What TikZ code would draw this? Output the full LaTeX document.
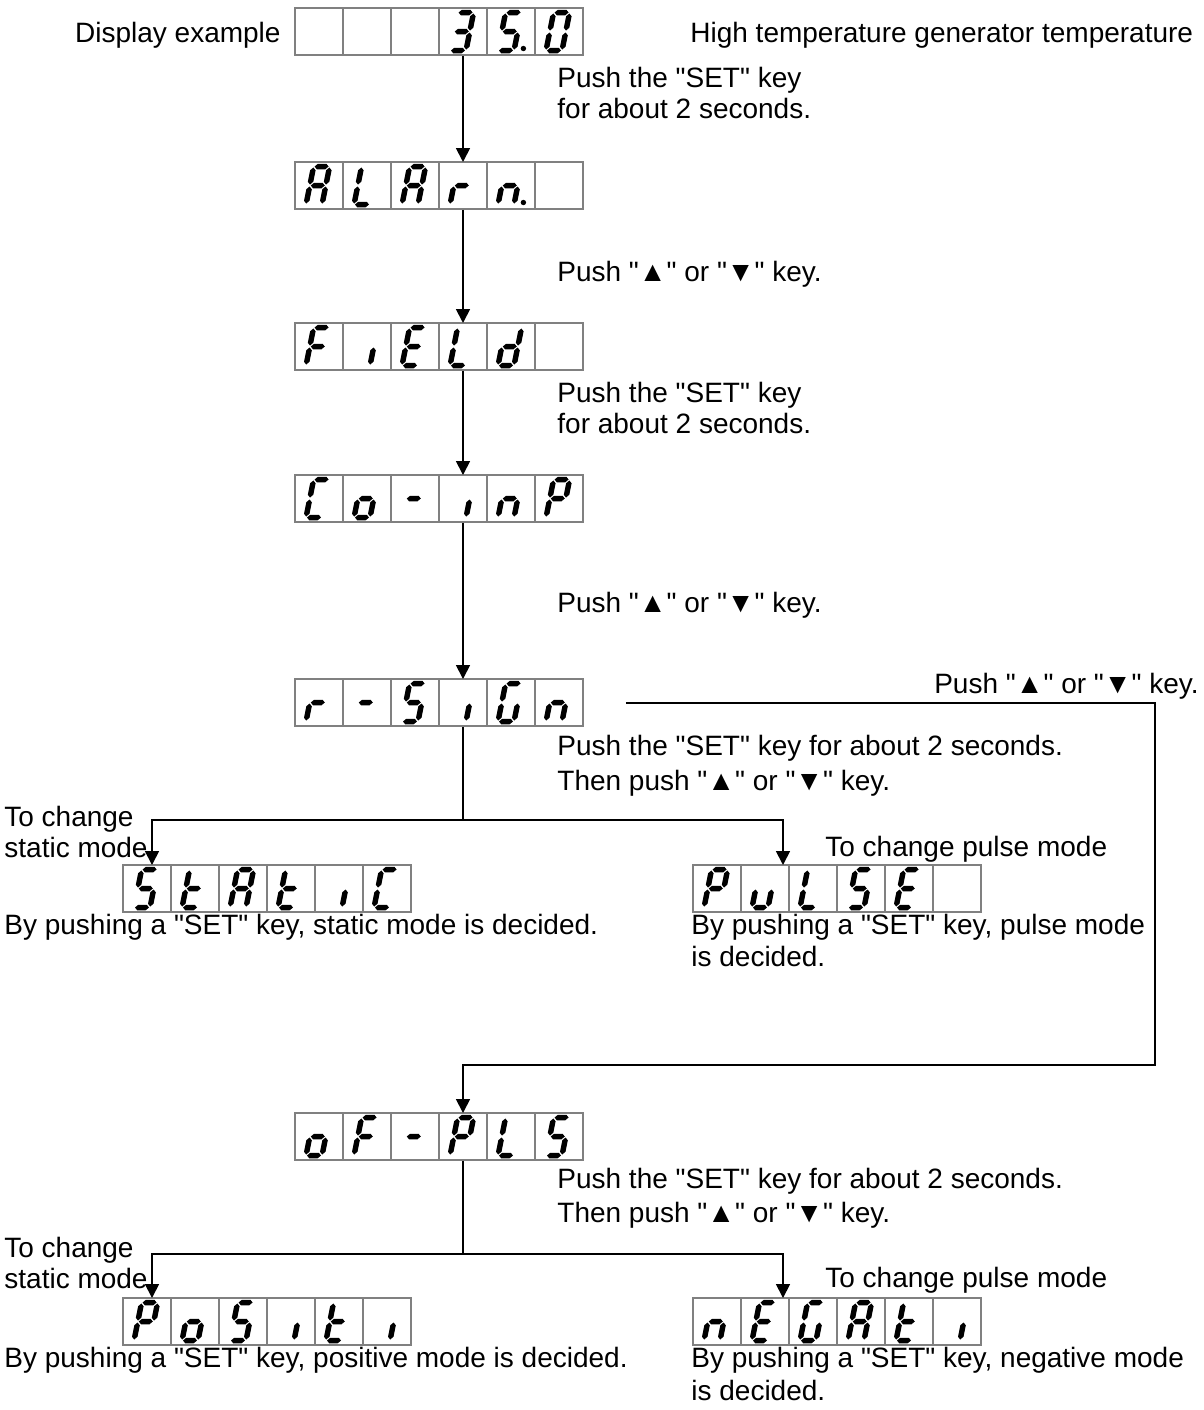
\documentclass[tikz,border=0pt]{standalone}
\usepackage{fontspec}
\setmainfont{Liberation Sans}[Ligatures=TeXOff]
\usetikzlibrary{arrows.meta, calc}

% slanted point of a digit (local units: x right, y up)
\newcommand\skpt[2]{({(#1)+0.2*(#2)},{-(#2)})}
% one segment of a seven-segment digit
\newcommand\hseg[3]{\fill[seg] \skpt{#1}{#3} -- \skpt{#1+2.75}{#3+2.75} -- \skpt{#2-2.75}{#3+2.75}
  -- \skpt{#2}{#3} -- \skpt{#2-2.75}{#3-2.75} -- \skpt{#1+2.75}{#3-2.75} -- cycle;}
\newcommand\vseg[3]{\fill[seg] \skpt{#1}{#2} -- \skpt{#1+2.75}{#2+2.75} -- \skpt{#1+2.75}{#3-2.75}
  -- \skpt{#1}{#3} -- \skpt{#1-2.75}{#3-2.75} -- \skpt{#1-2.75}{#2+2.75} -- cycle;}
\newcommand\sgA{\hseg{1}{15}{38}}
\newcommand\sgB{\vseg{16}{20}{37}}
\newcommand\sgC{\vseg{16}{1}{18}}
\newcommand\sgD{\hseg{1}{15}{0}}
\newcommand\sgE{\vseg{0}{1}{18}}
\newcommand\sgF{\vseg{0}{20}{37}}
\newcommand\sgG{\hseg{1}{15}{19}}
\newcommand\sgP{\fill[seg] \skpt{25}{2} circle (2.7);}

% glyphs
\newcommand\glBlank{}
\newcommand\glThree{\sgA\sgB\sgC\sgD\sgG}
\newcommand\glS{\sgA\sgC\sgD\sgF\sgG}
\newcommand\glZero{\sgA\sgB\sgC\sgD\sgE\sgF}
\newcommand\glA{\sgA\sgB\sgC\sgE\sgF\sgG}
\newcommand\glL{\sgD\sgE\sgF}
\newcommand\glr{\sgE\sgG}
\newcommand\gln{\sgC\sgE\sgG}
\newcommand\glF{\sgA\sgE\sgF\sgG}
\newcommand\gli{\sgC}
\newcommand\glE{\sgA\sgD\sgE\sgF\sgG}
\newcommand\gld{\sgB\sgC\sgD\sgE\sgG}
\newcommand\glC{\sgA\sgD\sgE\sgF}
\newcommand\glo{\sgC\sgD\sgE\sgG}
\newcommand\glDash{\sgG}
\newcommand\glP{\sgA\sgB\sgE\sgF\sgG}
\newcommand\glG{\sgA\sgC\sgD\sgE\sgF}
\newcommand\glt{\sgD\sgE\sgF\sgG}
\newcommand\glu{\sgC\sgD\sgE}

% six cells of a display, placed on its frame node
\newcommand\showdisp[2]{%
  \foreach \gl [count=\i from 0] in {#2} {
    \draw[cell] ($(#1.north west)+(48*\i,0)$) rectangle ++(48,47);
    \begin{scope}[shift={($(#1.north west)+(48*\i+11,42.5)$)}]
      \gl
    \end{scope}
  }%
}

\begin{document}
\begin{tikzpicture}[
  x=0.5pt, y=-0.5pt,
  disp/.style={inner sep=0pt, minimum width=144pt, minimum height=23.5pt, anchor=north west},
  cell/.style={draw=black!50, line width=0.6pt},
  seg/.style={fill=black},
  txt/.style={font=\fontsize{14pt}{16pt}\selectfont, inner sep=0pt, anchor=base west},
  line/.style={line width=0.9pt},
  arr/.style={line, -{Triangle[length=7pt, width=7pt]}}
]
\useasboundingbox (0,0) rectangle (1204,1410);

% displays
\node[disp] (d1) at (295,8)     {};
\node[disp] (d2) at (295,162)   {};
\node[disp] (d3) at (295,323)   {};
\node[disp] (d4) at (295,475)   {};
\node[disp] (d5) at (295,679)   {};
\node[disp] (d6) at (123,865)   {};
\node[disp] (d7) at (693,865)   {};
\node[disp] (d8) at (295,1113)  {};
\node[disp] (d9) at (123,1298)  {};
\node[disp] (d10) at (693,1298) {};

\showdisp{d1}{\glBlank,\glBlank,\glBlank,\glThree,\glS\sgP,\glZero}
\showdisp{d2}{\glA,\glL,\glA,\glr,\gln\sgP,\glBlank}
\showdisp{d3}{\glF,\gli,\glE,\glL,\gld,\glBlank}
\showdisp{d4}{\glC,\glo,\glDash,\gli,\gln,\glP}
\showdisp{d5}{\glr,\glDash,\glS,\gli,\glG,\gln}
\showdisp{d6}{\glS,\glt,\glA,\glt,\gli,\glC}
\showdisp{d7}{\glP,\glu,\glL,\glS,\glE,\glBlank}
\showdisp{d8}{\glo,\glF,\glDash,\glP,\glL,\glS}
\showdisp{d9}{\glP,\glo,\glS,\gli,\glt,\gli}
\showdisp{d10}{\gln,\glE,\glG,\glA,\glt,\gli}

% texts
\node[txt, anchor=base east] (ex) at (281,42) {Display example};
\node[txt] (hi) at (690,42) {High temperature generator temperature};
\node[txt] (p1a) at (557,87)  {Push the "SET" key};
\node[txt] (p1b) at (557,118) {for about 2 seconds.};
\node[txt] (p2)  at (557,281) {Push "▲" or "▼" key.};
\node[txt] (p3a) at (557,402) {Push the "SET" key};
\node[txt] (p3b) at (557,433) {for about 2 seconds.};
\node[txt] (p4)  at (557,612) {Push "▲" or "▼" key.};
\node[txt, anchor=base east] (p5) at (1199,693) {Push "▲" or "▼" key.};
\node[txt] (p6a) at (557,755) {Push the "SET" key for about 2 seconds.};
\node[txt] (p6b) at (557,790) {Then push "▲" or "▼" key.};
\node[txt] (sa1) at (4,826) {To change};
\node[txt] (sa2) at (4,857) {static mode};
\node[txt] (pa1) at (825,856) {To change pulse mode};
\node[txt] (sa3) at (4,934) {By pushing a "SET" key, static mode is decided.};
\node[txt] (pa2) at (691,934) {By pushing a "SET" key, pulse mode};
\node[txt] (pa3) at (691,966) {is decided.};
\node[txt] (p7a) at (557,1188) {Push the "SET" key for about 2 seconds.};
\node[txt] (p7b) at (557,1222) {Then push "▲" or "▼" key.};
\node[txt] (sb1) at (4,1257) {To change};
\node[txt] (sb2) at (4,1288) {static mode};
\node[txt] (pb1) at (825,1287) {To change pulse mode};
\node[txt] (sb3) at (4,1367) {By pushing a "SET" key, positive mode is decided.};
\node[txt] (pb2) at (691,1367) {By pushing a "SET" key, negative mode};
\node[txt] (pb3) at (691,1400) {is decided.};

% connectors
\coordinate (col) at (463,0);
\draw[arr] (d1.south -| col) -- (d2.north -| col);
\draw[arr] (d2.south -| col) -- (d3.north -| col);
\draw[arr] (d3.south -| col) -- (d4.north -| col);
\draw[arr] (d4.south -| col) -- (d5.north -| col);

\coordinate (fork1) at (463,820);
\draw[line] (d5.south -| col) -- (fork1);
\draw[arr] (fork1) -| ($(d6.north west)+(29,0)$);
\draw[arr] (fork1) -| ($(d7.north west)+(90,0)$);

\coordinate (rt1) at ($(d5.east)+(42,0)$);
\coordinate (rt2) at (1155,1065);
\draw[arr] (rt1) -| (rt2) -| (d8.north -| col);

\coordinate (fork2) at (463,1254);
\draw[line] (d8.south -| col) -- (fork2);
\draw[arr] (fork2) -| ($(d9.north west)+(29,0)$);
\draw[arr] (fork2) -| ($(d10.north west)+(90,0)$);
\end{tikzpicture}
\end{document}
